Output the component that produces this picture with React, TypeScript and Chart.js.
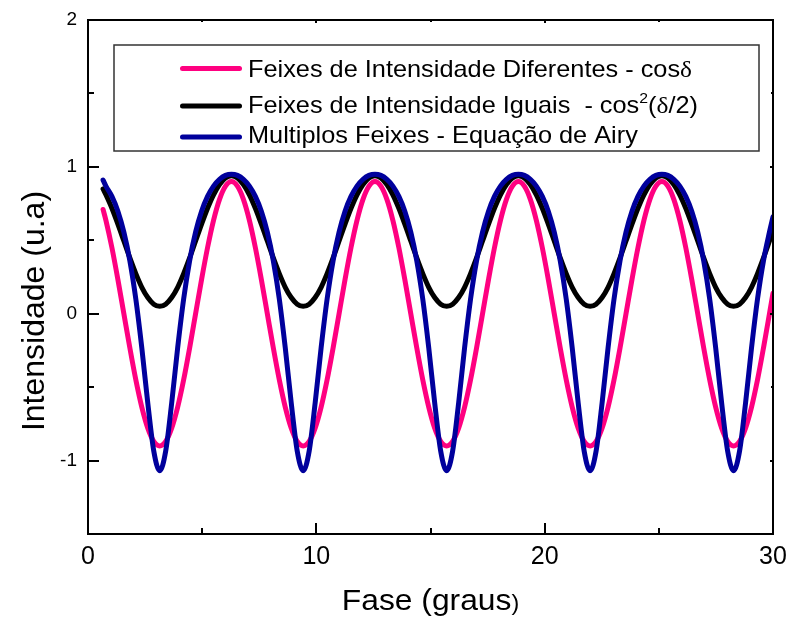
import React, { useEffect, useRef } from 'react';
import { Chart, registerables } from 'chart.js';

Chart.register(...registerables);

// Fase (graus) – x positions of the sampled curve points
const phase = [
  0.66,
  0.785, 1.047, 1.309, 1.571, 1.833, 2.094, 2.356, 2.618, 2.880, 3.142, 3.403, 3.665, 3.927, 4.189, 4.451, 4.712, 4.974, 5.236, 5.498, 5.760, 6.021,
  6.283, 6.545, 6.807, 7.069, 7.330, 7.592, 7.854, 8.116, 8.378, 8.639, 8.901, 9.163, 9.425, 9.687, 9.948, 10.210, 10.472, 10.734, 10.996, 11.257, 11.519, 11.781, 12.043, 12.305,
  12.566, 12.828, 13.090, 13.352, 13.614, 13.875, 14.137, 14.399, 14.661, 14.923, 15.184, 15.446, 15.708, 15.970, 16.232, 16.493, 16.755, 17.017, 17.279, 17.541, 17.802, 18.064, 18.326, 18.588,
  18.850, 19.111, 19.373, 19.635, 19.897, 20.159, 20.420, 20.682, 20.944, 21.206, 21.468, 21.729, 21.991, 22.253, 22.515, 22.777, 23.038, 23.300, 23.562, 23.824, 24.086, 24.347, 24.609, 24.871,
  25.133, 25.395, 25.656, 25.918, 26.180, 26.442, 26.704, 26.965, 27.227, 27.489, 27.751, 28.013, 28.274, 28.536, 28.798, 29.060, 29.322, 29.583, 29.845,
  30.0,
];

// Feixes de Intensidade Diferentes - cos δ (pink)
const feixesDiferentes = [
  0.71,
  0.636, 0.45, 0.233, 0, -0.233, -0.45, -0.636, -0.779, -0.869, -0.9, -0.869, -0.779, -0.636, -0.45, -0.233, 0, 0.233, 0.45, 0.636, 0.779, 0.869,
  0.9, 0.869, 0.779, 0.636, 0.45, 0.233, 0, -0.233, -0.45, -0.636, -0.779, -0.869, -0.9, -0.869, -0.779, -0.636, -0.45, -0.233, 0, 0.233, 0.45, 0.636, 0.779, 0.869,
  0.9, 0.869, 0.779, 0.636, 0.45, 0.233, 0, -0.233, -0.45, -0.636, -0.779, -0.869, -0.9, -0.869, -0.779, -0.636, -0.45, -0.233, 0, 0.233, 0.45, 0.636, 0.779, 0.869,
  0.9, 0.869, 0.779, 0.636, 0.45, 0.233, 0, -0.233, -0.45, -0.636, -0.779, -0.869, -0.9, -0.869, -0.779, -0.636, -0.45, -0.233, 0, 0.233, 0.45, 0.636, 0.779, 0.869,
  0.9, 0.869, 0.779, 0.636, 0.45, 0.233, 0, -0.233, -0.45, -0.636, -0.779, -0.869, -0.9, -0.869, -0.779, -0.636, -0.45, -0.233, 0,
  0.14,
];

// Feixes de Intensidade Iguais - cos²(δ/2) (black)
const feixesIguais = [
  0.85,
  0.81, 0.718, 0.61, 0.495, 0.38, 0.273, 0.18, 0.11, 0.065, 0.05, 0.065, 0.11, 0.18, 0.273, 0.38, 0.495, 0.61, 0.718, 0.81, 0.88, 0.925,
  0.94, 0.925, 0.88, 0.81, 0.718, 0.61, 0.495, 0.38, 0.273, 0.18, 0.11, 0.065, 0.05, 0.065, 0.11, 0.18, 0.273, 0.38, 0.495, 0.61, 0.718, 0.81, 0.88, 0.925,
  0.94, 0.925, 0.88, 0.81, 0.718, 0.61, 0.495, 0.38, 0.273, 0.18, 0.11, 0.065, 0.05, 0.065, 0.11, 0.18, 0.273, 0.38, 0.495, 0.61, 0.718, 0.81, 0.88, 0.925,
  0.94, 0.925, 0.88, 0.81, 0.718, 0.61, 0.495, 0.38, 0.273, 0.18, 0.11, 0.065, 0.05, 0.065, 0.11, 0.18, 0.273, 0.38, 0.495, 0.61, 0.718, 0.81, 0.88, 0.925,
  0.94, 0.925, 0.88, 0.81, 0.718, 0.61, 0.495, 0.38, 0.273, 0.18, 0.11, 0.065, 0.05, 0.065, 0.11, 0.18, 0.273, 0.38, 0.495,
  0.564,
];

// Multiplos Feixes - Equação de Airy (navy)
const multiplosFeixes = [
  0.91,
  0.869, 0.799, 0.698, 0.556, 0.361, 0.1, -0.232, -0.608, -0.935, -1.07, -0.935, -0.608, -0.232, 0.1, 0.361, 0.556, 0.698, 0.799, 0.869, 0.915, 0.942,
  0.95, 0.942, 0.915, 0.869, 0.799, 0.698, 0.556, 0.361, 0.1, -0.232, -0.608, -0.935, -1.07, -0.935, -0.608, -0.232, 0.1, 0.361, 0.556, 0.698, 0.799, 0.869, 0.915, 0.942,
  0.95, 0.942, 0.915, 0.869, 0.799, 0.698, 0.556, 0.361, 0.1, -0.232, -0.608, -0.935, -1.07, -0.935, -0.608, -0.232, 0.1, 0.361, 0.556, 0.698, 0.799, 0.869, 0.915, 0.942,
  0.95, 0.942, 0.915, 0.869, 0.799, 0.698, 0.556, 0.361, 0.1, -0.232, -0.608, -0.935, -1.07, -0.935, -0.608, -0.232, 0.1, 0.361, 0.556, 0.698, 0.799, 0.869, 0.915, 0.942,
  0.95, 0.942, 0.915, 0.869, 0.799, 0.698, 0.556, 0.361, 0.1, -0.232, -0.608, -0.935, -1.07, -0.935, -0.608, -0.232, 0.1, 0.361, 0.556,
  0.66,
];

const xMajorTicks = [0, 10, 20, 30];
const xMinorTicks = [5, 15, 25];
const yMajorTicks = [-1, 0, 1, 2];
const yMinorTicks = [-0.5, 0.5, 1.5];

const seriesNames = [
  'Feixes de Intensidade Diferentes - cos',
  'Feixes de Intensidade Iguais  - cos',
  'Multiplos Feixes - Equação de Airy',
];
const seriesColors = ['#FF0080', '#000000', '#00009C'];

const xTitle = 'Fase (graus';
const yTitle = 'Intensidade (u.a)';

const SANS = "'Liberation Sans', Arial, sans-serif";
const SERIF = "'Liberation Serif', 'Times New Roman', serif";

type Seg = { t: string; font: string; dy?: number };

function segWidth(ctx: CanvasRenderingContext2D, segs: Seg[]) {
  let w = 0;
  for (const s of segs) {
    ctx.font = s.font;
    w += ctx.measureText(s.t).width;
  }
  return w;
}

function drawSegs(ctx: CanvasRenderingContext2D, segs: Seg[], x: number, y: number, sx: number) {
  ctx.save();
  ctx.translate(x, y);
  ctx.scale(sx, 1);
  ctx.textAlign = 'left';
  ctx.textBaseline = 'alphabetic';
  ctx.fillStyle = '#000';
  let cx = 0;
  for (const s of segs) {
    ctx.font = s.font;
    ctx.fillText(s.t, cx, s.dy || 0);
    cx += ctx.measureText(s.t).width;
  }
  ctx.restore();
}

const decorPlugin = {
  id: 'decor',
  afterDraw(chart: any) {
    const { ctx, chartArea: a, scales } = chart;
    const xs = scales.x;
    const ys = scales.y;
    ctx.save();
    ctx.strokeStyle = '#000';
    ctx.lineWidth = 2;
    ctx.lineCap = 'butt';
    ctx.strokeRect(a.left, a.top, a.right - a.left, a.bottom - a.top);

    ctx.beginPath();
    const xt = (vals: number[], len: number, topLen: number) => {
      vals.forEach((v) => {
        const p = Math.round(xs.getPixelForValue(v));
        ctx.moveTo(p, a.bottom);
        ctx.lineTo(p, a.bottom - len);
        ctx.moveTo(p, a.top);
        ctx.lineTo(p, a.top + topLen);
      });
    };
    const yt = (vals: number[], len: number, rightLen: number) => {
      vals.forEach((v) => {
        const p = Math.round(ys.getPixelForValue(v));
        ctx.moveTo(a.left, p);
        ctx.lineTo(a.left + len, p);
        ctx.moveTo(a.right, p);
        ctx.lineTo(a.right - rightLen, p);
      });
    };
    xt(xMajorTicks, 11, 3);
    xt(xMinorTicks, 6, 2);
    yt(yMajorTicks, 11, 3);
    yt(yMinorTicks, 6, 2);
    ctx.stroke();

    // legend box
    const bx = 114, by = 45, bw = 645, bh = 106;
    ctx.fillStyle = '#fff';
    ctx.fillRect(bx, by, bw, bh);
    ctx.strokeStyle = '#333';
    ctx.lineWidth = 1.5;
    ctx.strokeRect(bx, by, bw, bh);

    const rowsY = [68.5, 106, 137];
    const baseY = [76.7, 112.7, 142.7];
    const F24 = `24px ${SANS}`;
    const S24 = `24px ${SERIF}`;
    const rows: Seg[][] = [
      [{ t: seriesNames[0], font: F24 }, { t: 'δ', font: S24 }],
      [
        { t: seriesNames[1], font: F24 },
        { t: '2', font: `15px ${SANS}`, dy: -10 },
        { t: '(', font: F24 },
        { t: 'δ', font: S24 },
        { t: '/2)', font: F24 },
      ],
      [{ t: seriesNames[2], font: F24 }],
    ];
    rows.forEach((segs, i) => {
      ctx.strokeStyle = seriesColors[i];
      ctx.lineWidth = 5;
      ctx.lineCap = 'round';
      ctx.beginPath();
      ctx.moveTo(182.5, rowsY[i]);
      ctx.lineTo(239.5, rowsY[i]);
      ctx.stroke();
      drawSegs(ctx, segs, 248, baseY[i], 1.055);
    });

    // x title
    const xSegs: Seg[] = [
      { t: xTitle, font: `30px ${SANS}` },
      { t: ')', font: `22px ${SANS}` },
    ];
    const sx = 1.06;
    const w = segWidth(ctx, xSegs) * sx;
    const cxm = (a.left + a.right) / 2;
    drawSegs(ctx, xSegs, cxm - w / 2, 610, sx);

    // y title
    ctx.save();
    ctx.translate(44, 311);
    ctx.rotate(-Math.PI / 2);
    ctx.font = `32px ${SANS}`;
    ctx.fillStyle = '#000';
    ctx.textAlign = 'center';
    ctx.textBaseline = 'alphabetic';
    ctx.fillText(yTitle, 0, 0);
    ctx.restore();

    ctx.restore();
  },
};

export default function App() {
  const ref = useRef<HTMLCanvasElement | null>(null);

  useEffect(() => {
    document.body.style.margin = '0';
    const canvas = ref.current;
    if (!canvas) return;
    const series = [feixesDiferentes, feixesIguais, multiplosFeixes];
    const chart = new Chart(canvas, {
      type: 'line',
      data: {
        datasets: series.map((vals, i) => ({
          label: seriesNames[i],
          data: phase.map((x, j) => ({ x, y: vals[j] })),
          borderColor: seriesColors[i],
          backgroundColor: seriesColors[i],
          borderWidth: 5,
          pointRadius: 0,
          fill: false,
          cubicInterpolationMode: 'monotone' as const,
          borderCapStyle: 'round' as const,
          borderJoinStyle: 'round' as const,
          order: 3 - i,
          clip: { left: 6, right: 0, top: 6, bottom: 6 },
        })),
      },
      options: {
        animation: false,
        responsive: false,
        devicePixelRatio: 1,
        layout: { padding: { top: 20, right: 16, left: 0, bottom: 0 } },
        plugins: { legend: { display: false }, tooltip: { enabled: false } },
        scales: {
          x: {
            type: 'linear',
            min: 0,
            max: 30,
            grid: { display: false, drawTicks: false },
            border: { display: false },
            afterBuildTicks: (s: any) => {
              s.ticks = xMajorTicks.map((v) => ({ value: v }));
            },
            afterFit: (s: any) => {
              s.height = 85;
              s.paddingLeft = 0;
              s.paddingRight = 0;
            },
            ticks: {
              padding: 8,
              maxRotation: 0,
              autoSkip: false,
              color: '#000',
              font: { family: SANS, size: 25 },
              callback: (v: any) => String(v),
            },
          },
          y: {
            type: 'linear',
            min: -1.5,
            max: 2,
            grid: { display: false, drawTicks: false },
            border: { display: false },
            afterBuildTicks: (s: any) => {
              s.ticks = yMajorTicks.map((v) => ({ value: v }));
            },
            afterFit: (s: any) => {
              s.width = 88;
              s.paddingTop = 0;
              s.paddingBottom = 0;
            },
            ticks: {
              padding: 11,
              autoSkip: false,
              color: '#000',
              font: { family: SANS, size: 19 },
              callback: (v: any) => String(v),
            },
          },
        },
      },
      plugins: [decorPlugin],
    });
    return () => chart.destroy();
  }, []);

  return (
    <div style={{ width: 789, height: 619 }}>
      <canvas ref={ref} width={789} height={619} style={{ display: 'block', width: 789, height: 619 }} />
    </div>
  );
}
